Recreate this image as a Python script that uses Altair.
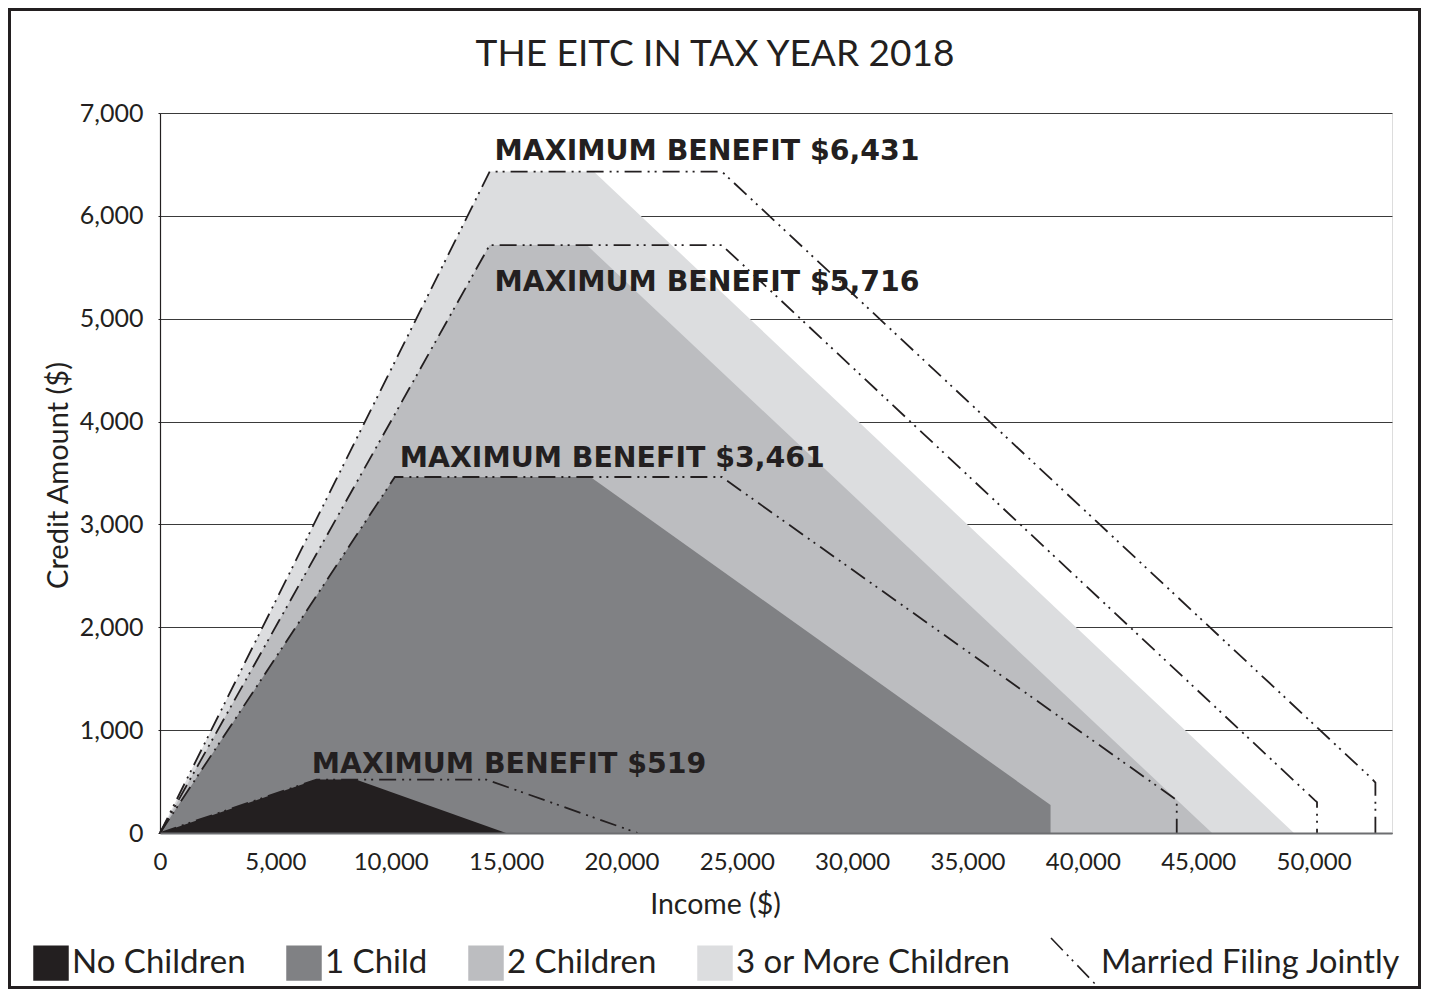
import altair as alt
import pandas as pd

# ---- data ----
categories = ["No Children", "1 Child", "2 Children", "3 or More Children"]
fill_colors = ["#231f20", "#808184", "#bcbdc0", "#dcdddf"]

# single / head of household filers (shaded areas)
no_child_income = [0, 6780, 8490, 15000]
no_child_credit = [0, 519, 519, 0]
one_child_income = [0, 10180, 18660, 38600, 38600]
one_child_credit = [0, 3461, 3461, 272, 0]
two_children_income = [0, 14290, 18500, 45600]
two_children_credit = [0, 5716, 5716, 0]
three_children_income = [0, 14290, 18800, 49150]
three_children_credit = [0, 6431, 6431, 0]

# married filing jointly (dash-dot lines)
mfj_no_child_income = [0, 6780, 14150, 20700]
mfj_no_child_credit = [0, 519, 519, 0]
mfj_one_child_income = [0, 10180, 24350, 44070, 44070]
mfj_one_child_credit = [0, 3461, 3461, 320, 0]
mfj_two_children_income = [0, 14290, 24350, 50050, 50150, 50150]
mfj_two_children_credit = [0, 5716, 5716, 320, 300, 0]
mfj_three_children_income = [0, 14290, 24350, 52450, 52680, 52680]
mfj_three_children_credit = [0, 6431, 6431, 545, 490, 0]

x_ticks = [0, 5000, 10000, 15000, 20000, 25000, 30000, 35000, 40000, 45000, 50000]
y_ticks = [0, 1000, 2000, 3000, 4000, 5000, 6000, 7000]

ann_labels = ["MAXIMUM BENEFIT $6,431", "MAXIMUM BENEFIT $5,716",
              "MAXIMUM BENEFIT $3,461", "MAXIMUM BENEFIT $519"]
ann_income = [14500, 14500, 10390, 6580]
ann_credit = [6431, 5716, 3461, 519]
ann_dy = [-12, 46, -10, -7]

chart_title = "THE EITC IN TAX YEAR 2018"
mfj_label = "Married Filing Jointly"

# ---- tables ----
area_sets = {
    "No Children": (no_child_income, no_child_credit),
    "1 Child": (one_child_income, one_child_credit),
    "2 Children": (two_children_income, two_children_credit),
    "3 or More Children": (three_children_income, three_children_credit),
}
line_sets = {
    "No Children": (mfj_no_child_income, mfj_no_child_credit),
    "1 Child": (mfj_one_child_income, mfj_one_child_credit),
    "2 Children": (mfj_two_children_income, mfj_two_children_credit),
    "3 or More Children": (mfj_three_children_income, mfj_three_children_credit),
}


def table(sets, extra=None):
    rows = []
    for name, (xs, ys) in sets.items():
        for i, (xv, yv) in enumerate(zip(xs, ys)):
            r = {"series": name, "income": xv, "credit": yv, "idx": i}
            if extra:
                r["kind"] = extra
            rows.append(r)
    return pd.DataFrame(rows)


area_df = table(area_sets)
line_df = table(line_sets, mfj_label)

FONT = "Lato"
INK = "#231f20"
W, H = 1232, 720

x_enc = alt.X(
    "income:Q",
    scale=alt.Scale(domain=[0, 53400], nice=False, zero=True),
    axis=alt.Axis(
        values=x_ticks, format=",d", title="Income ($)", grid=False, ticks=False,
        labelFont=FONT, labelFontSize=24, labelColor=INK, labelPadding=36,
        labelBaseline="alphabetic", labelFlush=False,
        domainColor="#6d6e71", domainWidth=2, zindex=1,
        titleFont=FONT, titleFontSize=28.5, titleFontWeight="normal", titleColor=INK,
        titleX=555, titleY=80, titleBaseline="alphabetic", titleAnchor="middle", titleAlign="center",
    ),
)
y_enc = alt.Y(
    "credit:Q",
    stack=None,
    scale=alt.Scale(domain=[0, 7000], nice=False),
    axis=alt.Axis(
        values=y_ticks, format=",d", title="Credit Amount ($)", grid=True,
        gridColor="#3a3a3a", gridWidth=1, gridOpacity=1,
        ticks=True, tickSize=2, tickColor=INK,
        labelFont=FONT, labelFontSize=25, labelColor=INK, labelPadding=15,
        domainColor=INK, domainWidth=1.2, zindex=0,
        titleFont=FONT, titleFontSize=29, titleFontWeight="normal", titleColor=INK,
        titleX=-102, titleY=362, titleAngle=270, titleAlign="center", titleBaseline="middle",
    ),
)

color_enc = alt.Color(
    "series:N",
    scale=alt.Scale(domain=categories, range=fill_colors),
    legend=alt.Legend(
        title=None, orient="none", legendX=-127, legendY=832, direction="horizontal",
        symbolType="square", symbolSize=1260, symbolStrokeWidth=0, symbolOpacity=1,
        labelFont=FONT, labelFontSize=33, labelColor=INK, labelOffset=3,
        labelLimit=600, columnPadding=40, columns=4,
    ),
)

layers = []
for cat in reversed(categories):
    layers.append(
        alt.Chart(area_df[area_df["series"] == cat]).mark_area().encode(
            x=x_enc, y=y_enc, color=color_enc
        )
    )

lines = alt.Chart(line_df).mark_line(color=INK, strokeWidth=1.8).encode(
    x=x_enc,
    y=y_enc,
    detail="series:N",
    order=alt.Order("idx:Q"),
    strokeDash=alt.StrokeDash(
        "kind:N",
        scale=alt.Scale(domain=[mfj_label], range=[[17, 6, 2, 5, 2, 6]]),
        legend=alt.Legend(
            title=None, orient="none", legendX=889, legendY=824,
            symbolType="M-0.96,-1L0.96,1", symbolSize=2500, symbolStrokeWidth=1.6,
            symbolStrokeColor=INK, labelFont=FONT, labelFontSize=32.5, labelColor=INK,
            labelOffset=0, labelLimit=600,
        ),
    ),
)
layers.append(lines)

for lab, xi, yi, dy in zip(ann_labels, ann_income, ann_credit, ann_dy):
    d = pd.DataFrame({"label": [lab], "income": [xi], "credit": [yi]})
    layers.append(
        alt.Chart(d).mark_text(
            font="DejaVu Sans", fontWeight="bold", fontSize=28.4, color=INK,
            align="left", baseline="alphabetic", dy=dy,
        ).encode(x=x_enc, y=y_enc, text="label:N")
    )

title_layer = alt.Chart(pd.DataFrame({"t": [chart_title]})).mark_text(
    font=FONT, fontSize=37, color=INK, align="center", baseline="alphabetic"
).encode(x=alt.value(555), y=alt.value(-47), text="t:N")
layers.append(title_layer)

frame = alt.Chart(pd.DataFrame({"a": [0]})).mark_rect(
    fillOpacity=0, stroke=INK, strokeWidth=3
).encode(
    x=alt.value(-150.5), x2=alt.value(1259.5), y=alt.value(-103.5), y2=alt.value(874.5)
)
layers.append(frame)

chart = alt.layer(*layers).properties(
    width=W,
    height=H,
    autosize=alt.AutoSizeParams(type="none"),
    padding={"left": 152, "top": 105, "right": 29, "bottom": 156},
).configure_view(stroke=None).configure(background="white")

chart.save("out.html", embed_options={"renderer": "svg", "actions": False})
